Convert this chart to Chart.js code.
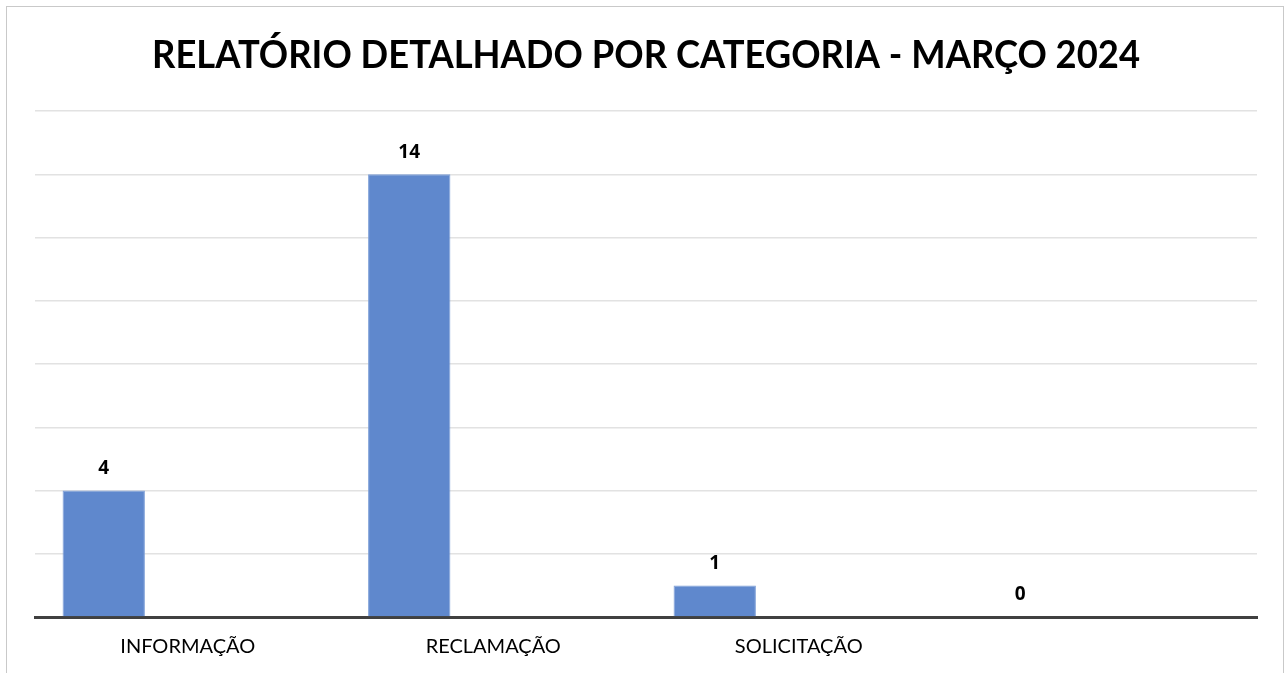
<!DOCTYPE html>
<html lang="pt">
<head>
    <meta charset="UTF-8">
    <title>Relatório por categoria</title>
    <script src="https://cdn.jsdelivr.net/npm/chart.js"></script>
    <style>
        html, body { margin: 0; padding: 0; background: #fff; overflow: hidden; }
        #moldura { position: absolute; left: 6px; top: 6px; width: 1276px; height: 700px; border: 1px solid #c9c9c9; }
        #wrap { position: absolute; left: 0; top: 0; width: 1287px; height: 673px; }
    </style>
</head>
<body>
    <div id="moldura"></div>
    <div id="wrap"><canvas id="grafico1"></canvas></div>

    <script>
        const titulo = "RELATÓRIO DETALHADO POR CATEGORIA - MARÇO 2024";
        const categorias = ["INFORMAÇÃO", "RECLAMAÇÃO", "SOLICITAÇÃO", ""];
        const valores = [4, 14, 1, 0];
        const vazia = [null, null, null, null];
        const eixoMax = 16;
        const eixoPasso = 2;

        // rótulos de dados e título
        const rotulos = {
            id: 'rotulos',
            afterDatasetsDraw(chart) {
                const c = chart.ctx;
                const meta = chart.getDatasetMeta(0);
                c.save();
                c.fillStyle = '#000';
                c.font = 'bold 19px "Open Sans"';
                c.textAlign = 'center';
                c.textBaseline = 'middle';
                meta.data.forEach((bar, i) => {
                    c.fillText(String(valores[i]), bar.x, bar.y - 22);
                });
                c.restore();
            },
            afterDraw(chart) {
                const c = chart.ctx;
                c.save();
                c.font = 'bold 38.5px Lato';
                // ajusta a largura do título à do original
                const sx = 988 / c.measureText(titulo).width;
                c.translate(646, 68);
                c.scale(sx, 1);
                c.fillStyle = '#000';
                c.textAlign = 'center';
                c.textBaseline = 'alphabetic';
                c.fillText(titulo, 0, 0);
                c.restore();
            }
        };

        const ctx = document.getElementById('grafico1');
        const grafico1 = new Chart(ctx, {
            type: 'bar',
            data: {
                labels: categorias,
                datasets: [{
                    data: valores,
                    backgroundColor: '#5f88cd',
                    borderColor: '#7fa0d8',
                    borderWidth: 1,
                    categoryPercentage: 1.1,
                    barPercentage: 0.49
                }, {
                    data: vazia,
                    backgroundColor: '#ed7d31',
                    categoryPercentage: 1.1,
                    barPercentage: 0.49
                }]
            },
            options: {
                responsive: true,
                maintainAspectRatio: false,
                animation: false,
                layout: { padding: { left: 35, right: 30, top: 111, bottom: 0 } },
                plugins: { legend: { display: false }, tooltip: { enabled: false } },
                scales: {
                    x: {
                        grid: { display: false },
                        border: { display: true, color: '#404040', width: 3 },
                        ticks: { color: '#000', font: { family: 'Lato', size: 20 }, padding: 10, maxRotation: 0 },
                        afterFit: s => { s.height = 56; }
                    },
                    y: {
                        min: 0,
                        max: eixoMax,
                        ticks: { display: false, stepSize: eixoPasso },
                        grid: { color: '#e2e2e2', lineWidth: 1.5, drawTicks: false },
                        border: { display: false },
                        afterFit: s => { s.width = 0; }
                    }
                }
            },
            plugins: [rotulos]
        });
    </script>
</body>
</html>
